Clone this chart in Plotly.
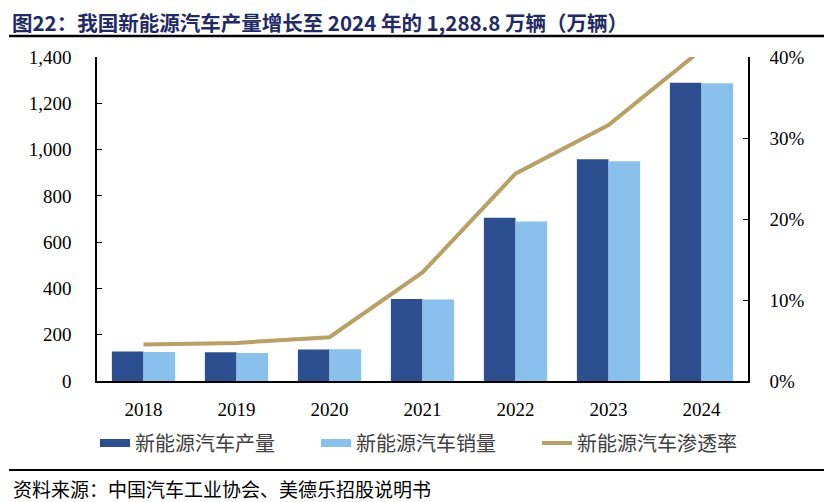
import plotly.graph_objects as go

years = ["2018", "2019", "2020", "2021", "2022", "2023", "2024"]
production = [127.0, 124.2, 136.6, 354.5, 705.8, 958.7, 1288.8]
sales = [125.6, 120.6, 136.7, 352.1, 688.7, 949.5, 1286.6]
penetration = [4.5, 4.7, 5.4, 13.4, 25.6, 31.6, 40.9]

left_ticks = [0, 200, 400, 600, 800, 1000, 1200, 1400]
left_labels = ["0", "200", "400", "600", "800", "1,000", "1,200", "1,400"]
right_ticks = [0, 10, 20, 30, 40]
right_labels = ["0%", "10%", "20%", "30%", "40%"]

C_PROD = "#2E4F8F"
C_SALE = "#8AC0EC"
C_LINE = "#B9A067"

num_font = dict(family="Liberation Serif, Times New Roman, serif", size=19, color="#000000")
cjk = "Noto Sans CJK SC"

# page body has an 8px margin; figure is sized/offset to compensate
PL, PT, PW, PH = 97, 57, 651, 324   # plot area in reference pixels


def px(xr):
    return (xr - PL) / PW


def py(yr):
    return (PT + PH - yr) / PH


fig = go.Figure()
fig.add_trace(go.Bar(x=years, y=production, name="新能源汽车产量", showlegend=False,
                     marker=dict(color=C_PROD, line=dict(width=0))))
fig.add_trace(go.Bar(x=years, y=sales, name="新能源汽车销量", showlegend=False,
                     marker=dict(color=C_SALE, line=dict(width=0))))
fig.add_trace(go.Scatter(x=years, y=penetration, name="新能源汽车渗透率", yaxis="y2",
                         mode="lines", showlegend=False,
                         line=dict(color=C_LINE, width=4)))
# legend entries
fig.add_trace(go.Scatter(x=[None], y=[None], name="新能源汽车产量", mode="lines",
                         line=dict(color=C_PROD, width=8)))
fig.add_trace(go.Scatter(x=[None], y=[None], name="新能源汽车销量", mode="lines",
                         line=dict(color=C_SALE, width=8)))
fig.add_trace(go.Scatter(x=[None], y=[None], name="新能源汽车渗透率", mode="lines",
                         line=dict(color=C_LINE, width=4)))

W, H = 824, 494
fig.update_layout(
    width=W, height=H,
    margin=dict(l=PL - 8, r=W - (PL - 8) - PW, t=PT - 8, b=H - (PT - 8) - PH),
    paper_bgcolor="white", plot_bgcolor="white",
    barmode="group", bargap=0.32, bargroupgap=0,
    showlegend=True,
    legend=dict(orientation="h", x=px(95), xanchor="left", y=py(443), yanchor="middle",
                font=dict(family=cjk, size=20, color="#404040"),
                entrywidth=176, entrywidthmode="pixels", traceorder="normal",
                bgcolor="rgba(0,0,0,0)"),
    xaxis=dict(showline=True, linecolor="#000000", linewidth=1.5, ticks="",
               tickfont=num_font, showgrid=False, ticklabelstandoff=10),
    yaxis=dict(range=[0, 1400], tickvals=left_ticks, ticktext=left_labels,
               showline=True, linecolor="#000000", linewidth=1.5, ticks="inside",
               ticklen=5, tickcolor="#000000", tickfont=num_font, showgrid=False,
               zeroline=False, ticklabelstandoff=20),
    yaxis2=dict(range=[0, 40], tickvals=right_ticks, ticktext=right_labels,
                overlaying="y", side="right", showline=True, linecolor="#000000",
                linewidth=1.5, ticks="inside", ticklen=5, tickcolor="#000000",
                tickfont=num_font, showgrid=False, zeroline=False,
                ticklabelstandoff=16),
    annotations=[
        dict(text="<b>图22：我国新能源汽车产量增长至 2024 年的 1,288.8 万辆（万辆）</b>",
             xref="paper", yref="paper", x=px(11), y=py(21.5),
             xanchor="left", yanchor="middle", showarrow=False, borderpad=0,
             font=dict(family=cjk, size=20.5, color="#1F2A66")),
        dict(text="资料来源：中国汽车工业协会、美德乐招股说明书",
             xref="paper", yref="paper", x=px(11), y=py(488),
             xanchor="left", yanchor="middle", showarrow=False,
             font=dict(family=cjk, size=19, color="#000000")),
    ],
    shapes=[
        dict(type="line", xref="paper", yref="paper", x0=px(9), x1=px(826),
             y0=py(36), y1=py(36), line=dict(color="#000000", width=2.5)),
        dict(type="line", xref="paper", yref="paper", x0=px(9), x1=px(826),
             y0=py(470), y1=py(470), line=dict(color="#000000", width=2)),
    ],
)

fig.write_html("out.html")
